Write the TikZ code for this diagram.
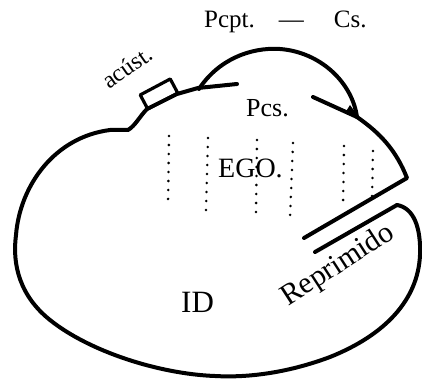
\documentclass[tikz,border=0pt]{standalone}
\usepackage{fontspec}
\setmainfont{Liberation Serif}
\begin{document}
\begin{tikzpicture}[x=1pt,y=-1pt,
  outline/.style={line width=4pt, line cap=round, line join=round},
  dotcol/.style={line width=2.8pt, line cap=round, dash pattern=on 0pt off 9pt},
  lbl/.style={inner sep=0pt, anchor=base west}]
\useasboundingbox (0,0) rectangle (422,379);

% main outline of the ego/id
\draw[outline] (397,205) .. controls (414,208) and (421,228) .. (420,255)
  .. controls (418,300) and (385,335) .. (330,357)
  .. controls (290,372) and (250,378) .. (215,376)
  .. controls (160,374) and (90,352) .. (50,320)
  .. controls (20,296) and (12,265) .. (16,235)
  .. controls (20,185) and (55,137) .. (110,130)
  -- (128,130)
  .. controls (135,126) and (140,116) .. (147,109)
  -- (177,94) -- (198,88) -- (237,84);

% separating line to the repressed
\draw[outline] (397,205) -- (315,252);
% right side of ego down to corner
\draw[outline] (357,117) .. controls (380,133) and (396,150) .. (407,178) -- (304,238);

% Pcpt.-Cs. cap arc
\draw[outline] (199,89) .. controls (218,60) and (250,47) .. (280,49)
  .. controls (320,52) and (352,82) .. (357,117);
\draw[outline] (313,97) -- (357,117);
\fill (350,105) -- (360,119) -- (345,113) -- cycle;

% acoustic box
\draw[outline, line width=3.2pt, rotate around={28:(159,94)}] (142,86) rectangle (176,102);

% dotted columns
\draw[dotcol] (169,136) -- (168,206);
\draw[dotcol] (208,138) -- (206,211);
\draw[dotcol] (257,140) -- (256,213);
\draw[dotcol] (293,143) -- (290,218);
\draw[dotcol] (344,146) -- (343,206);
\draw[dotcol] (373,151) -- (372,196);

% labels
\node[lbl, font=\fontsize{25}{25}\selectfont] (pcpt) at (204,28) {Pcpt.\hspace{24pt}—\hspace{30pt}Cs.};
\node[lbl, font=\fontsize{24}{24}\selectfont, rotate=35] (acust) at (109,90) {acúst.};
\node[lbl, font=\fontsize{26}{26}\selectfont] (pcs) at (246,117) {Pcs.};
\node[lbl, font=\fontsize{28}{28}\selectfont] (ego) at (218,178) {EGO.};
\node[lbl, font=\fontsize{31}{31}\selectfont] (id) at (181,312) {ID};
\node[lbl, font=\fontsize{30}{30}\selectfont, rotate=33] (rep) at (288,307) {Reprimido};
\end{tikzpicture}
\end{document}
